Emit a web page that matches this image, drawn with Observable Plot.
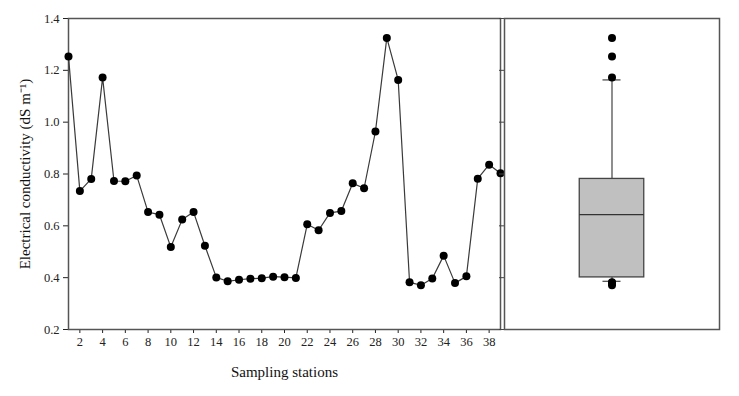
<!DOCTYPE html>
<html>
<head>
<meta charset="utf-8">
<script src="https://cdn.jsdelivr.net/npm/d3@7"></script>
<script src="https://cdn.jsdelivr.net/npm/@observablehq/plot@0.6"></script>
<style>
  html, body { margin: 0; padding: 0; background: #fff; }
  #wrap { position: relative; width: 739px; height: 396px; background: #fff; overflow: hidden; }
  #left, #right { position: absolute; top: 0; }
  #left { left: 0; }
  #right { left: 495px; }
</style>
</head>
<body>
<div id="wrap"><div id="left"></div><div id="right"></div></div>
<script>
const stations = [1,2,3,4,5,6,7,8,9,10,11,12,13,14,15,16,17,18,19,20,21,22,23,24,25,26,27,28,29,30,31,32,33,34,35,36,37,38,39];
const conductivity = [1.253,0.734,0.781,1.172,0.773,0.772,0.794,0.653,0.643,0.518,0.624,0.653,0.523,0.401,0.386,0.392,0.396,0.398,0.404,0.402,0.399,0.606,0.583,0.650,0.657,0.764,0.745,0.964,1.325,1.163,0.382,0.371,0.397,0.485,0.379,0.405,0.782,0.836,0.803];
const xTicks = [2,4,6,8,10,12,14,16,18,20,22,24,26,28,30,32,34,36,38];
const yTicks = [0.2,0.4,0.6,0.8,1.0,1.2,1.4];
const xLabel = "Sampling stations";
const yLabel = "Electrical conductivity (dS m\u207B\u00B9)";

const data = stations.map((s, i) => ({station: s, ec: conductivity[i]}));

// percentiles by the (n+1)p rule (SigmaPlot-style box plot: 10th/25th/50th/75th/90th)
const sorted = conductivity.slice().sort(d3.ascending);
function pct(p) {
  const n = sorted.length;
  const h = Math.min(Math.max((n + 1) * p - 1, 0), n - 1);
  const i = Math.floor(h);
  const f = h - i;
  return i + 1 < n ? sorted[i] + f * (sorted[i + 1] - sorted[i]) : sorted[i];
}
const stats = {q1: pct(0.25), med: pct(0.5), q3: pct(0.75), lo: pct(0.10), hi: pct(0.90)};
const outliers = conductivity.filter(v => v > stats.hi + 1e-9 || v < stats.lo - 1e-9);

const font = "'Liberation Serif', 'Times New Roman', serif";
const frameStroke = "#555";

const left = Plot.plot({
  width: 505, height: 396,
  marginLeft: 68, marginRight: 5, marginTop: 18, marginBottom: 67,
  style: {fontFamily: font, fontSize: "12px", background: "transparent", color: "#222", overflow: "visible"},
  x: {domain: [1, 39], axis: null},
  y: {domain: [0.2, 1.4], axis: null},
  marks: [
    Plot.axisX({ticks: xTicks, tickSize: 4, tickPadding: 4, tickFormat: d => d, label: null, fontSize: 12.5}),
    Plot.axisY({ticks: yTicks, tickSize: 5, tickPadding: 4, tickFormat: d3.format(".1f"), label: null, fontSize: 12.5}),
    Plot.frame({stroke: frameStroke, strokeWidth: 1.5}),
    Plot.text([xLabel], {text: d => d, frameAnchor: "bottom", dy: 43, textAnchor: "middle", lineAnchor: "middle", fontSize: 15, fill: "#111"}),
    Plot.text([yLabel], {text: d => d, frameAnchor: "left", dx: -43, rotate: -90, textAnchor: "middle", lineAnchor: "middle", fontSize: 15, fill: "#111"}),
    Plot.line(data, {x: "station", y: "ec", stroke: "#3a3a3a", strokeWidth: 1.2}),
    Plot.dot(data, {x: "station", y: "ec", r: 4, fill: "#000", stroke: "none"})
  ]
});
document.getElementById("left").appendChild(left);

const right = Plot.plot({
  width: 244, height: 396,
  marginLeft: 9, marginRight: 20, marginTop: 18, marginBottom: 67,
  style: {fontFamily: font, fontSize: "12px", background: "transparent", color: "#444", overflow: "visible"},
  x: {domain: [0, 1], axis: null},
  y: {domain: [0.2, 1.4], axis: null},
  marks: [
    Plot.axisY({ticks: yTicks, tickSize: 5, tickFormat: () => "", label: null}),
    Plot.frame({stroke: frameStroke, strokeWidth: 1.5}),
    Plot.ruleX([stats], {x: () => 0.5, y1: "q3", y2: "hi", stroke: "#444", strokeWidth: 1.2}),
    Plot.ruleX([stats], {x: () => 0.5, y1: "lo", y2: "q1", stroke: "#444", strokeWidth: 1.2}),
    Plot.rect([stats], {x1: () => 0.35, x2: () => 0.65, y1: "q1", y2: "q3", fill: "#c0c0c0", stroke: "#444", strokeWidth: 1.3}),
    Plot.ruleY([stats], {y: "med", x1: () => 0.35, x2: () => 0.65, stroke: "#333", strokeWidth: 1.3}),
    Plot.ruleY([stats.lo, stats.hi], {y: d => d, x1: () => 0.458, x2: () => 0.542, stroke: "#444", strokeWidth: 1.2}),
    Plot.dot(outliers, {x: () => 0.5, y: d => d, r: 4, fill: "#000", stroke: "none"})
  ]
});
document.getElementById("right").appendChild(right);
</script>
</body>
</html>
